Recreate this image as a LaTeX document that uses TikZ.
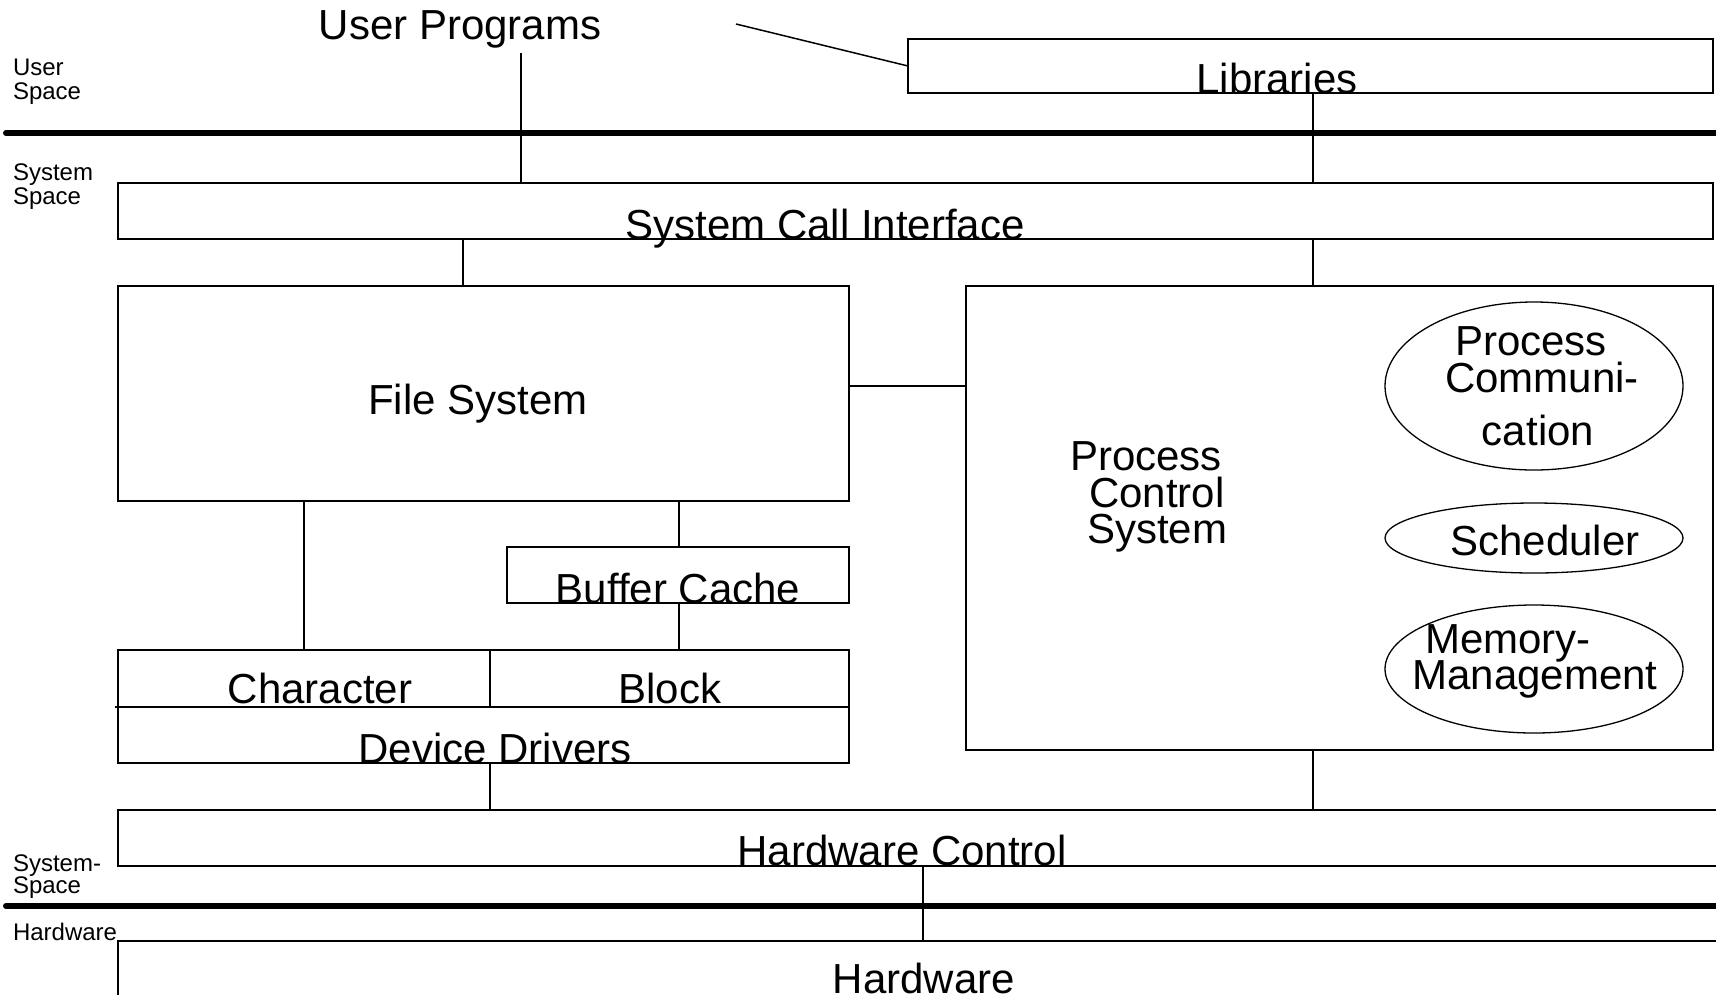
\documentclass[tikz,border=0pt]{standalone}
\usepackage{fontspec}
\setmainfont{Liberation Sans}
\usetikzlibrary{shapes.geometric}
\tikzset{
  box/.style={draw, line width=1.6pt, rectangle, inner sep=0pt, outer sep=0pt, anchor=north west},
  oval/.style={draw, line width=1.3pt, ellipse, inner sep=0pt, outer sep=0pt},
  conn/.style={line width=1.5pt},
  sep/.style={line width=6pt, line cap=round},
  big/.style={font=\fontsize{42}{37}\selectfont, inner sep=0pt, outer sep=0pt, anchor=base},
  bigw/.style={font=\fontsize{42}{37}\selectfont, inner sep=0pt, outer sep=0pt, anchor=base west},
  small/.style={font=\fontsize{24}{25}\selectfont, inner sep=0pt, outer sep=0pt, anchor=base west}
}
\begin{document}
\begin{tikzpicture}[x=1pt,y=-1pt]
\useasboundingbox (0,0) rectangle (1716,994);
\clip (0,0) rectangle (1716,994);
\fill[white] (0,0) rectangle (1716,994);

% separators
\draw[sep] (6,133) -- (1730,133);
\draw[sep] (6,906) -- (1730,906);

% side labels
\node[small] (lu1) at (13,75) {User};
\node[small] (lu2) at (13,99) {Space};
\node[small] (ls1) at (13,180) {System};
\node[small] (ls2) at (13,204) {Space};
\node[small] (lh1) at (13,871) {System-};
\node[small] (lh2) at (13,893) {Space};
\node[small] (lh3) at (13,940) {Hardware};

% boxes
\node[box, minimum width=805pt, minimum height=54pt] (lib) at (908,39) {};
\node[box, minimum width=1595pt, minimum height=56pt] (sci) at (118,183) {};
\node[box, minimum width=731pt, minimum height=215pt] (fs) at (118,286) {};
\node[box, minimum width=747pt, minimum height=464pt] (pcs) at (966,286) {};
\node[box, minimum width=342pt, minimum height=56pt] (bc) at (507,547) {};
\node[box, minimum width=731pt, minimum height=113pt] (dd) at (118,650) {};
\node[box, minimum width=1620pt, minimum height=56pt] (hwc) at (118,810) {};
\node[box, minimum width=1620pt, minimum height=100pt] (hw) at (118,941) {};

% device driver dividers
\draw[line width=1.6pt] (115,707) -- (dd.east |- 0,707);
\draw[line width=1.6pt] (dd.north -| 490,0) -- (490,707);

% ellipses
\node[oval, minimum width=298pt, minimum height=168pt] (ipc) at (1534,386) {};
\node[oval, minimum width=298pt, minimum height=70pt] (sch) at (1534,538) {};
\node[oval, minimum width=298pt, minimum height=128pt] (mm) at (1534,669) {};

% texts
\node[big] (tup) at (460,39) {User Programs};
\node[big] (tlib) at (1277,93) {Libraries};
\node[big] (tsci) at (825,239) {System Call Interface};
\node[big] (tfs) at (478,414) {File System};
\node[big] (tbc) at (678,603) {Buffer Cache};
\node[big] (tch) at (320,703) {Character};
\node[big] (tbl) at (670,703) {Block};
\node[big] (tdd) at (495,763) {Device Drivers};
\node[big] (thwc) at (902,865) {Hardware Control};
\node[big] (thw) at (924,993) {Hardware};
\node[bigw] (tp1) at (1070,470) {Process};
\node[bigw] (tp2) at (1089,507) {Control};
\node[bigw] (tp3) at (1087,543) {System};
\node[big] (ti1) at (1531,355) {Process};
\node[big] (ti2) at (1542,392) {Communi-};
\node[big] (ti3) at (1538,445) {cation};
\node[big] (tsch) at (1545,555) {Scheduler};
\node[big] (tm1) at (1508,653) {Memory-};
\node[big] (tm2) at (1535,689) {Management};

% connector anchors
\coordinate (upx) at (521,53);
\coordinate (upl) at (736,24);
\coordinate (cx) at (1313,0);
\coordinate (fx) at (463,0);
\coordinate (chx) at (304,0);
\coordinate (bx) at (679,0);
\coordinate (dx) at (490,0);
\coordinate (hx) at (923,0);
\coordinate (ly) at (0,386);

% connectors
\draw[conn] (upl) -- (lib.west);
\draw[conn] (upx) -- (upx |- sci.north);
\draw[conn] (lib.south -| cx) -- (sci.north -| cx);
\draw[conn] (sci.south -| cx) -- (pcs.north -| cx);
\draw[conn] (sci.south -| fx) -- (fs.north -| fx);
\draw[conn] (fs.east |- ly) -- (pcs.west |- ly);
\draw[conn] (fs.south -| chx) -- (dd.north -| chx);
\draw[conn] (fs.south -| bx) -- (bc.north -| bx);
\draw[conn] (bc.south -| bx) -- (dd.north -| bx);
\draw[conn] (dd.south -| dx) -- (hwc.north -| dx);
\draw[conn] (pcs.south -| cx) -- (hwc.north -| cx);
\draw[conn] (hwc.south -| hx) -- (hw.north -| hx);
\end{tikzpicture}
\end{document}
